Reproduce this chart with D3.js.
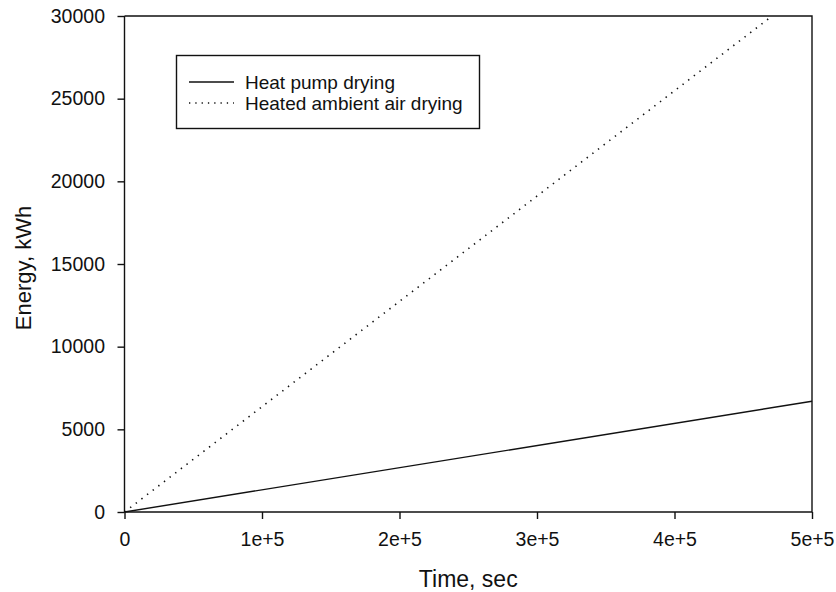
<!DOCTYPE html>
<html>
<head>
<meta charset="utf-8">
<script src="https://cdn.jsdelivr.net/npm/d3@7"></script>
<style>
  html, body { margin: 0; padding: 0; background: #fff; }
  svg { display: block; font-family: "Liberation Sans", Arial, sans-serif; }
</style>
</head>
<body>
<svg id="chart" width="836" height="592"></svg>
<script>
// Cumulative drying energy over time for two drying methods
const timeSec = [0, 500000];
const heatPumpKWh = [0, 6700];
const ambientTimeSec = [0, 471000];
const ambientKWh = [0, 30000];

const xTicks = [0, 100000, 200000, 300000, 400000, 500000];
const xTickLabels = ["0", "1e+5", "2e+5", "3e+5", "4e+5", "5e+5"];
const yTicks = [0, 5000, 10000, 15000, 20000, 25000, 30000];

const seriesNames = ["Heat pump drying", "Heated ambient air drying"];

const W = 836, H = 592;
const m = { left: 124.5, right: 24, top: 16, bottom: 80 };
const svg = d3.select("#chart");

const x = d3.scaleLinear().domain([0, 500000]).range([m.left, W - m.right]);
const y = d3.scaleLinear().domain([0, 30000]).range([H - m.bottom, m.top]);

const ink = "#111";
const stroke = 1.4;

// Frame (top and right sides)
svg.append("path")
  .attr("d", `M${x(0)},${y(30000)}H${x(500000)}V${y(0)}`)
  .attr("fill", "none").attr("stroke", ink).attr("stroke-width", stroke);

// Axes
const xAxis = d3.axisBottom(x).tickValues(xTicks)
  .tickFormat((d, i) => xTickLabels[i]).tickSize(7).tickPadding(13);
const yAxis = d3.axisLeft(y).tickValues(yTicks)
  .tickFormat(d3.format("d")).tickSize(7).tickPadding(12.5);

const gx = svg.append("g").attr("transform", `translate(0,${y(0)})`).call(xAxis);
const gy = svg.append("g").attr("transform", `translate(${x(0)},0)`).call(yAxis);

[gx, gy].forEach(g => {
  g.select(".domain").attr("stroke", ink).attr("stroke-width", stroke);
  g.selectAll(".tick line").attr("stroke", ink).attr("stroke-width", stroke);
  g.selectAll(".tick text").attr("fill", ink)
    .style("font-size", "19.5px").style("font-family", "'Liberation Sans', Arial, sans-serif");
});
gx.select(".domain").attr("d", `M${x(0)},0H${x(500000)}`);
gy.select(".domain").attr("d", `M0,${y(0)}V${y(30000)}`);

// Axis titles
svg.append("text")
  .attr("x", (x(0) + x(500000)) / 2).attr("y", 587)
  .attr("text-anchor", "middle").attr("fill", ink)
  .style("font-size", "23px").text("Time, sec");

svg.append("text")
  .attr("transform", `translate(31,${(y(0) + y(30000)) / 2 + 4}) rotate(-90)`)
  .attr("text-anchor", "middle").attr("fill", ink)
  .style("font-size", "22px").text("Energy, kWh");

// Series lines
const line = d3.line().x(d => x(d[0])).y(d => y(d[1]));

svg.append("path")
  .datum(timeSec.map((t, i) => [t, heatPumpKWh[i]]))
  .attr("d", line).attr("fill", "none")
  .attr("stroke", ink).attr("stroke-width", stroke);

svg.append("path")
  .datum(ambientTimeSec.map((t, i) => [t, ambientKWh[i]]))
  .attr("d", line).attr("fill", "none")
  .attr("stroke", ink).attr("stroke-width", 1.6)
  .attr("stroke-dasharray", "1.4,5.7");

// Legend
const lg = svg.append("g");
lg.append("rect")
  .attr("x", 176.5).attr("y", 55.5).attr("width", 303).attr("height", 73)
  .attr("fill", "#fff").attr("stroke", ink).attr("stroke-width", stroke);

const rows = [
  { name: seriesNames[0], yc: 82, dash: null },
  { name: seriesNames[1], yc: 103, dash: "1.3,5" }
];
rows.forEach(r => {
  const l = lg.append("line")
    .attr("x1", 189).attr("x2", 234).attr("y1", r.yc).attr("y2", r.yc)
    .attr("stroke", ink).attr("stroke-width", r.dash ? 1.6 : stroke);
  if (r.dash) l.attr("stroke-dasharray", r.dash);
  lg.append("text")
    .attr("x", 245).attr("y", r.yc + 6.5)
    .attr("fill", ink).style("font-size", "19px").text(r.name);
});
</script>
</body>
</html>
